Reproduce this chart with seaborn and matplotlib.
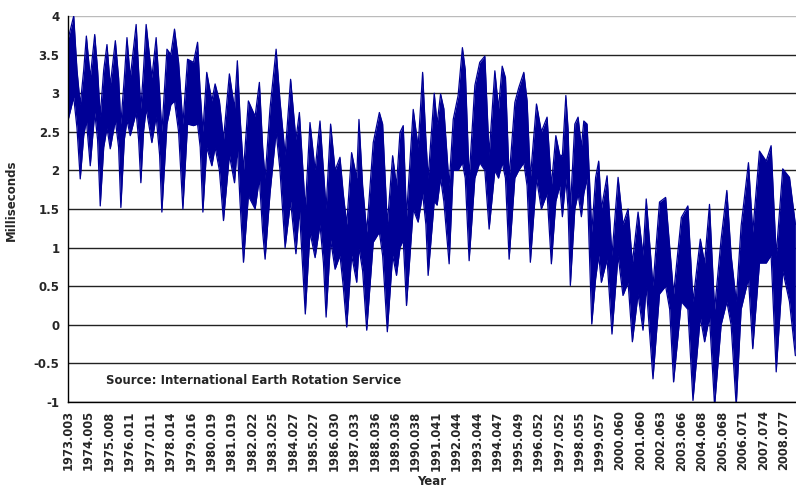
import numpy as np
import pandas as pd
import matplotlib
matplotlib.use("Agg")
import matplotlib.pyplot as plt
import seaborn as sns

# Excess length of day, envelope of the daily series
years = [
    1973.00, 1973.003, 1973.28, 1973.44, 1973.60, 1973.77, 1973.90, 1974.09, 1974.31, 1974.45, 1974.58, 1974.75, 1974.91,
    1975.07, 1975.32, 1975.48, 1975.59, 1975.76, 1975.89, 1976.05, 1976.34, 1976.46, 1976.57, 1976.70, 1976.83,
    1977.11, 1977.32, 1977.49, 1977.60, 1977.85, 1978.04, 1978.22, 1978.42, 1978.63, 1978.86,
    1979.15, 1979.35, 1979.48, 1979.61, 1979.80, 1980.05, 1980.21, 1980.42, 1980.62, 1980.91,
    1981.16, 1981.30, 1981.43, 1981.60, 1981.84, 1982.17, 1982.38, 1982.54, 1982.66, 1982.90,
    1983.20, 1983.39, 1983.64, 1983.91, 1984.17, 1984.34, 1984.63, 1984.86,
    1985.11, 1985.35, 1985.52, 1985.65, 1985.87, 1986.09, 1986.33, 1986.49, 1986.66, 1986.90,
    1987.15, 1987.26, 1987.44, 1987.64, 1987.96, 1988.26, 1988.42, 1988.65, 1988.91,
    1989.10, 1989.27, 1989.43, 1989.59, 1989.92, 1990.16, 1990.38, 1990.54, 1990.65, 1990.95,
    1991.09, 1991.26, 1991.42, 1991.68, 1991.88, 1992.12, 1992.33, 1992.47, 1992.66, 1992.94,
    1993.18, 1993.43, 1993.64, 1993.92, 1994.10, 1994.28, 1994.44, 1994.62, 1994.90,
    1995.09, 1995.34, 1995.50, 1995.66, 1995.96, 1996.20, 1996.48, 1996.69,
    1996.91, 1997.10, 1997.23, 1997.40, 1997.51, 1997.62, 1997.84, 1998.00, 1998.16, 1998.28,
    1998.44, 1998.57, 1998.67, 1998.86, 1999.01, 1999.14, 1999.42, 1999.66, 1999.96,
    2000.20, 2000.45, 2000.66, 2000.94, 2001.18, 2001.34, 2001.67, 2001.99,
    2002.29, 2002.49, 2002.68, 2003.06, 2003.38, 2003.63, 2003.99,
    2004.20, 2004.44, 2004.69, 2005.01, 2005.29, 2005.50, 2005.75, 2005.99,
    2006.35, 2006.56, 2006.89, 2007.22, 2007.46, 2007.71, 2008.03, 2008.36, 2008.65,
]

upper_ms = [
    0.00, 3.70, 4.00, 3.30, 2.85, 3.30, 3.74, 3.20, 3.76, 3.30, 2.70, 3.30, 3.63,
    3.10, 3.68, 3.20, 2.60, 3.20, 3.72, 3.20, 3.89, 3.30, 2.80, 3.30, 3.89,
    3.20, 3.72, 3.00, 2.50, 3.57, 3.50, 3.83, 3.40, 2.60, 3.44,
    3.40, 3.66, 3.00, 2.50, 3.27, 2.90, 3.12, 2.90, 2.40, 3.25,
    2.80, 3.42, 2.70, 2.00, 2.90, 2.70, 3.14, 2.30, 1.90, 2.80,
    3.57, 2.90, 2.20, 3.18, 2.40, 2.75, 1.50, 2.62,
    2.00, 2.64, 2.00, 1.50, 2.60, 2.00, 2.17, 1.70, 1.30, 2.23,
    1.90, 2.66, 1.80, 1.20, 2.36, 2.75, 2.60, 1.30, 2.19,
    1.80, 2.49, 2.58, 1.40, 2.79, 2.30, 3.27, 2.40, 1.90, 3.00,
    2.60, 2.99, 2.80, 1.80, 2.66, 2.97, 3.59, 3.30, 1.90, 3.10,
    3.40, 3.48, 2.20, 3.29, 2.80, 3.35, 3.20, 1.90, 2.88,
    3.07, 3.27, 2.90, 1.90, 2.86, 2.50, 2.69, 1.80,
    2.45, 2.20, 2.19, 2.97, 2.53, 1.50, 2.60, 2.69, 2.30, 2.64,
    2.60, 1.80, 1.20, 1.91, 2.12, 1.50, 1.93, 0.90, 1.91,
    1.30, 1.50, 0.80, 1.46, 0.90, 1.63, 0.50, 1.59,
    1.65, 1.00, 0.40, 1.39, 1.54, 0.30, 1.11,
    0.80, 1.56, 0.20, 1.11, 1.74, 0.90, 0.30, 1.28,
    2.10, 1.20, 2.25, 2.12, 2.32, 0.90, 2.02, 1.91, 1.30,
]

lower_ms = [
    0.00, 2.65, 2.95, 2.55, 1.89, 2.45, 2.65, 2.06, 2.75, 2.40, 1.54, 2.30, 2.55,
    2.28, 2.65, 2.30, 1.52, 2.40, 2.65, 2.45, 2.75, 2.40, 1.84, 2.50, 2.80,
    2.36, 2.70, 2.20, 1.46, 2.60, 2.85, 2.90, 2.50, 1.50, 2.60,
    2.58, 2.60, 2.30, 1.46, 2.30, 2.06, 2.30, 2.00, 1.35, 2.20,
    1.84, 2.30, 1.60, 0.81, 1.67, 1.50, 1.90, 1.20, 0.85, 1.70,
    2.50, 2.00, 1.00, 1.60, 0.92, 1.50, 0.14, 1.20,
    0.87, 1.30, 0.80, 0.10, 1.10, 0.72, 0.90, 0.50, -0.03, 0.90,
    0.55, 1.00, 0.70, -0.07, 1.07, 1.20, 0.90, -0.09, 0.90,
    0.64, 1.00, 1.10, 0.25, 1.50, 1.33, 1.70, 1.30, 0.64, 1.60,
    1.55, 1.90, 1.60, 0.79, 2.00, 2.00, 2.10, 1.90, 0.83, 1.90,
    2.10, 2.00, 1.24, 2.00, 1.90, 2.10, 1.90, 0.85, 1.90,
    2.00, 2.10, 1.80, 0.81, 1.90, 1.50, 1.70, 0.79,
    1.60, 1.80, 1.40, 1.90, 1.50, 0.51, 1.50, 1.70, 1.40, 1.70,
    1.90, 0.80, 0.01, 0.60, 0.90, 0.55, 0.85, -0.12, 0.90,
    0.38, 0.55, -0.22, 0.40, -0.07, 0.50, -0.70, 0.40,
    0.50, 0.20, -0.74, 0.30, 0.20, -0.98, 0.10,
    -0.22, 0.10, -1.05, 0.00, 0.30, 0.00, -1.05, 0.20,
    0.60, -0.31, 0.80, 0.80, 0.90, -0.61, 0.70, 0.30, -0.40,
]

tick_labels = [
    "1973.003", "1974.005", "1975.008", "1976.011", "1977.011", "1978.014",
    "1979.016", "1980.019", "1981.019", "1982.022", "1983.025", "1984.027",
    "1985.027", "1986.030", "1987.033", "1988.036", "1989.036", "1990.038",
    "1991.041", "1992.044", "1993.044", "1994.047", "1995.049", "1996.052",
    "1997.052", "1998.055", "1999.057", "2000.060", "2001.060", "2002.063",
    "2003.066", "2004.068", "2005.068", "2006.071", "2007.074", "2008.077",
]

df = pd.DataFrame({"year": years, "upper": upper_ms, "lower": lower_ms})

sns.set_style("white")
plt.rcParams["font.family"] = ["DejaVu Sans"]

navy = "#000096"
fig = plt.figure(figsize=(7.96, 4.92), dpi=100)
ax = fig.add_axes([68 / 796, 90 / 492, 728 / 796, 386 / 492])

ax.fill_between(df["year"], df["lower"], df["upper"], color=navy, linewidth=0)
sns.lineplot(data=df, x="year", y="upper", color=navy, lw=0.9, estimator=None, ax=ax)
sns.lineplot(data=df, x="year", y="lower", color=navy, lw=0.9, estimator=None, ax=ax)

ax.set_xlim(1973.0, 2008.68)
ax.set_ylim(-1, 4)

yt = np.arange(-1, 4.01, 0.5)
ax.set_yticks(yt)
ax.set_yticklabels([f"{v:g}" for v in yt], fontsize=8.5, fontweight="bold")
ax.set_xticks([float(t) for t in tick_labels])
ax.set_xticklabels(tick_labels, rotation=90, fontsize=8.3, fontweight="bold")

ax.grid(axis="y", color="#222222", lw=1.0)
ax.grid(axis="x", visible=False)
ax.set_axisbelow(True)
ax.get_ygridlines()[-1].set_color("#bbbbbb")

for side in ["top", "right"]:
    ax.spines[side].set_visible(False)
for side in ["left", "bottom"]:
    ax.spines[side].set_color("black")
    ax.spines[side].set_linewidth(1.0)
ax.tick_params(axis="both", direction="out", length=4, width=1, color="black", pad=2)

ax.set_xlabel("Year", fontsize=8.5, fontweight="bold", labelpad=3)
ax.set_ylabel("Milliseconds", fontsize=8.5, fontweight="bold")
ax.yaxis.set_label_coords(-0.069, 0.523)

ax.text(0.052, 0.055, "Source: International Earth Rotation Service",
        transform=ax.transAxes, fontsize=8.5, fontweight="bold", va="center")

fig.savefig("out.png", dpi=100)
